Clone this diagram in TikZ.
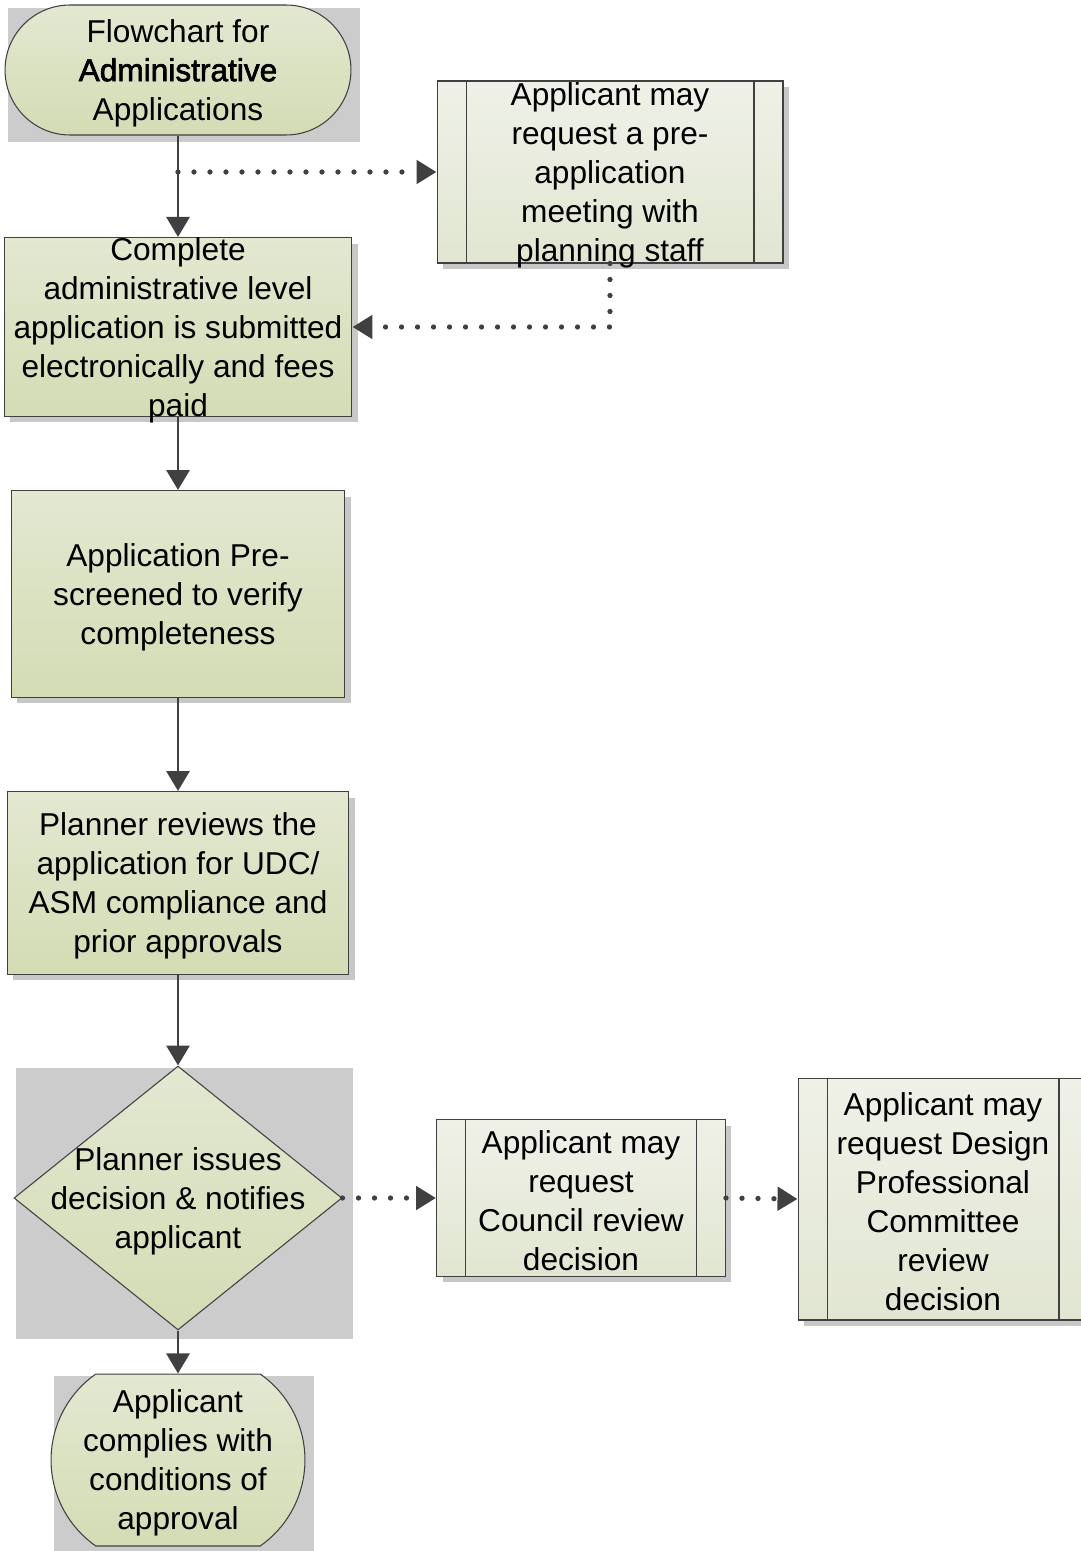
\documentclass[tikz,border=0pt]{standalone}
\usepackage{fontspec}
\setmainfont{Liberation Sans}
\newfontfamily\heavyfont[FakeBold=2]{Liberation Sans}
\usetikzlibrary{arrows.meta, shapes.geometric, shapes.misc, shadows}

\definecolor{linegray}{HTML}{404040}
\definecolor{backgray}{HTML}{CCCCCC}
\definecolor{steptop}{HTML}{E3E8D1}
\definecolor{stepbottom}{HTML}{D3DCB4}
\definecolor{predeftop}{HTML}{EFF1E8}
\definecolor{predefbottom}{HTML}{E1E6D1}

\begin{document}
\begin{tikzpicture}[
    x=0.02cm, y=-0.02cm, % one unit = one pixel of the layout
    >={Triangle[length=0.4cm, width=0.46cm]}, % Set default arrow tip style
    txt/.style={align=center, font=\fontsize{18}{22.2}\selectfont, inner sep=0pt, yshift=-0.06cm},
    stepbase/.style={draw=linegray, line width=0.6pt, top color=steptop, bottom color=stepbottom, inner sep=0pt},
    box/.style={stepbase, rectangle, drop shadow={shadow xshift=0.12cm, shadow yshift=-0.12cm, fill=black!22, opacity=1}},
    predef/.style={box, top color=predeftop, bottom color=predefbottom,
        path picture={\draw[linegray, line width=0.6pt]
            ([xshift=0.58cm]path picture bounding box.north west) -- ([xshift=0.58cm]path picture bounding box.south west)
            ([xshift=-0.58cm]path picture bounding box.north east) -- ([xshift=-0.58cm]path picture bounding box.south east);}},
    terminal/.style={stepbase, rounded rectangle},
    decision/.style={stepbase, diamond},
    flow/.style={->, line width=1.7pt, draw=linegray},
    dotflow/.style={flow, line width=3pt, dash pattern=on 0pt off 0.32cm, line cap=round}
]

\useasboundingbox (0,0) rectangle (1081,1551);

% Grey backdrops
\fill[backgray] (8,8) rectangle (360,142);
\fill[backgray] (16,1068) rectangle (353,1339);
\fill[backgray] (54,1376) rectangle (314,1551);

% Main column
\node[terminal, minimum width=6.92cm, minimum height=2.6cm,
    label={[txt]center:Flowchart for\\{\heavyfont Administrative}\\Applications}] (start) at (178,70) {};
\node[box, minimum width=6.96cm, minimum height=3.58cm,
    label={[txt]center:Complete\\administrative level\\application is submitted\\electronically and fees\\paid}] (complete) at (178,327) {};
\node[box, minimum width=6.68cm, minimum height=4.14cm,
    label={[txt]center:Application Pre-\\screened to verify\\completeness}] (prescreen) at (178,594) {};
\node[box, minimum width=6.84cm, minimum height=3.66cm,
    label={[txt]center:Planner reviews the\\application for UDC/\\ASM compliance and\\prior approvals}] (review) at (178,883) {};
\node[decision, minimum width=6.56cm, minimum height=5.28cm,
    label={[txt]center:Planner issues\\decision \& notifies\\applicant}] (decide) at (178,1198) {};
\node[terminal, rounded rectangle arc length=110, minimum width=5.08cm, minimum height=3.44cm,
    label={[txt]center:Applicant\\complies with\\conditions of\\approval}] (comply) at (178,1460) {};

% Optional requests
\node[predef, minimum width=6.92cm, minimum height=3.64cm,
    label={[txt]center:Applicant may\\request a pre-\\application\\meeting with\\planning staff}] (preapp) at (610,172) {};
\node[predef, minimum width=5.78cm, minimum height=3.14cm,
    label={[txt]center:Applicant may\\request\\Council review\\decision}] (council) at (581,1198) {};
\node[predef, minimum width=5.8cm, minimum height=4.84cm,
    label={[txt]center:Applicant may\\request Design\\Professional\\Committee\\review\\decision}] (design) at (943,1199) {};

% Solid connectors
\draw[flow] (start) -- (complete);
\draw[flow] (complete) -- (prescreen);
\draw[flow] (prescreen) -- (review);
\draw[flow] (review) -- (decide);
\draw[flow] (decide) -- (comply);

% Dotted connectors
\coordinate (split) at (start.south |- preapp.west);
\draw[dotflow] (split) -- (preapp.west);
\draw[dotflow] (preapp.south) |- (complete.east);
\draw[dotflow] (decide.east) -- (council.west);
\draw[dotflow] (council.east) -- (design.west);

\end{tikzpicture}
\end{document}
